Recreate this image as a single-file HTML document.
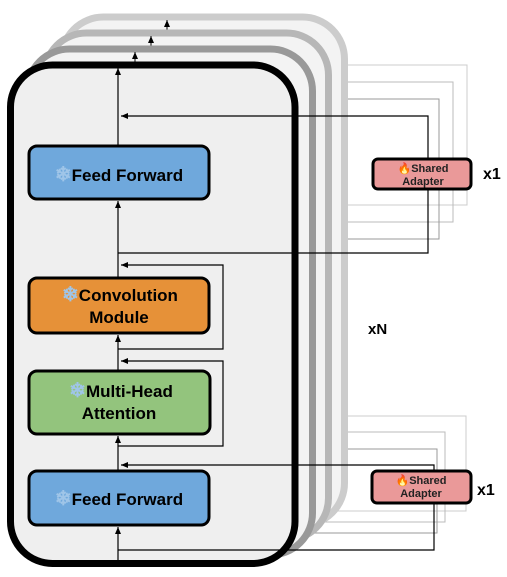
<!DOCTYPE html>
<html><head><style>
html,body{margin:0;padding:0;background:#fff;}
svg{display:block;}
text{font-family:"Liberation Sans",Arial,sans-serif;font-weight:bold;}
</style></head><body>
<svg width="507" height="577" viewBox="0 0 507 577" xmlns="http://www.w3.org/2000/svg">
<defs>
<marker id="ah" markerWidth="8" markerHeight="8" refX="7" refY="4" orient="auto" markerUnits="userSpaceOnUse">
<path d="M0,1 L7,4 L0,7 z" fill="#000"/></marker>
</defs>
<g fill="none" stroke-width="1">
<path d="M300,65 H467 V205 H300" stroke="#ccc"/>
<path d="M300,82 H453 V222 H300" stroke="#bbb"/>
<path d="M300,99 H439 V239 H300" stroke="#999"/>
<path d="M300,416 H466 V511 H300" stroke="#ccc"/>
<path d="M300,432 H445 V522 H300" stroke="#bbb"/>
<path d="M300,449 H437 V533 H300" stroke="#999"/>
</g>
<rect x="61.5" y="17" width="283" height="508" rx="42" fill="#f3f3f3" stroke="#cccccc" stroke-width="7"/>
<line x1="167" y1="30" x2="167" y2="20" stroke="#000" marker-end="url(#ah)"/>
<rect x="44.5" y="33" width="284" height="507" rx="42" fill="#f3f3f3" stroke="#b7b7b7" stroke-width="7"/>
<line x1="151" y1="46" x2="151" y2="36" stroke="#000" marker-end="url(#ah)"/>
<rect x="27.5" y="49" width="285" height="506" rx="42" fill="#f3f3f3" stroke="#999999" stroke-width="7"/>
<line x1="135" y1="62" x2="135" y2="52" stroke="#000" marker-end="url(#ah)"/>
<rect x="10.5" y="65" width="284.5" height="498.5" rx="42" fill="#efefef" stroke="#000" stroke-width="7"/>
<g stroke="#000" stroke-width="1.2" fill="none">
<line x1="118" y1="563" x2="118" y2="527" marker-end="url(#ah)"/>
<line x1="118" y1="470" x2="118" y2="436" marker-end="url(#ah)"/>
<line x1="118" y1="370" x2="118" y2="335" marker-end="url(#ah)"/>
<line x1="118" y1="277" x2="118" y2="201" marker-end="url(#ah)"/>
<line x1="118" y1="146" x2="118" y2="68" marker-end="url(#ah)"/>
<path d="M118,446 H223 V361 H121" marker-end="url(#ah)"/>
<path d="M118,349 H223 V265 H121" marker-end="url(#ah)"/>
<path d="M118,550 H434 V465 H121" marker-end="url(#ah)"/>
<path d="M118,253 H428 V116 H121" marker-end="url(#ah)"/>
</g>
<g stroke="#000" stroke-width="3">
<rect x="29" y="146" width="180" height="53" rx="8" fill="#6fa8dc"/>
<rect x="29" y="278" width="180" height="55" rx="8" fill="#e69138"/>
<rect x="29" y="371" width="181" height="63" rx="8" fill="#93c47d"/>
<rect x="29" y="471" width="180" height="54" rx="8" fill="#6fa8dc"/>
<rect x="373" y="159" width="98" height="30" rx="5" fill="#ea9999"/>
<rect x="372" y="471" width="99" height="32" rx="5" fill="#ea9999"/>
</g>
<g font-size="17" text-anchor="middle" fill="#000">
<text x="119" y="181"><tspan fill="#9fc5e8" font-size="20">❄</tspan>Feed Forward</text>
<text x="120" y="301"><tspan fill="#9fc5e8" font-size="20">❄</tspan>Convolution</text>
<text x="119" y="323">Module</text>
<text x="121" y="397"><tspan fill="#9fc5e8" font-size="20">❄</tspan>Multi-Head</text>
<text x="119" y="419">Attention</text>
<text x="119" y="505"><tspan fill="#9fc5e8" font-size="20">❄</tspan>Feed Forward</text>
</g>
<g font-size="11" text-anchor="middle" fill="#222">
<text x="423" y="172"><tspan fill="#e06020">🔥</tspan>Shared</text>
<text x="423" y="185">Adapter</text>
<text x="421" y="484"><tspan fill="#e06020">🔥</tspan>Shared</text>
<text x="421" y="497">Adapter</text>
</g>
<text x="483" y="179" font-size="16">x1</text>
<text x="477" y="495" font-size="16">x1</text>
<text x="368" y="334" font-size="15">xN</text>
</svg>
</body></html>
